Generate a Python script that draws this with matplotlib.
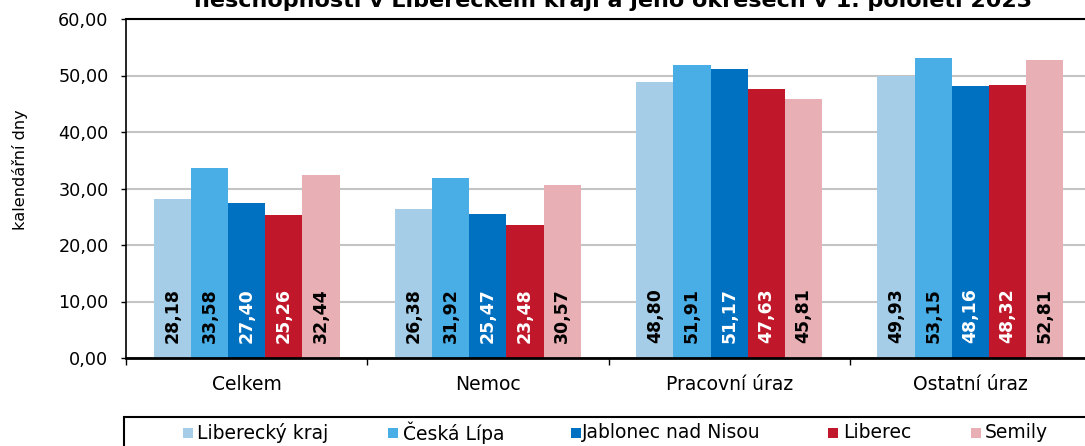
import numpy as np
import matplotlib.pyplot as plt
from matplotlib.patches import Rectangle
from matplotlib.ticker import FuncFormatter

categories = ['Celkem', 'Nemoc', 'Pracovní úraz', 'Ostatní úraz']
series_names = ['Liberecký kraj', 'Česká Lípa', 'Jablonec nad Nisou', 'Liberec', 'Semily']
liberecky_kraj = [28.18, 26.38, 48.80, 49.93]
ceska_lipa = [33.58, 31.92, 51.91, 53.15]
jablonec = [27.40, 25.47, 51.17, 48.16]
liberec = [25.26, 23.48, 47.63, 48.32]
semily = [32.44, 30.57, 45.81, 52.81]
series_values = [liberecky_kraj, ceska_lipa, jablonec, liberec, semily]

colors = ['#a6cde8', '#4aaee6', '#0070c0', '#c0182a', '#e8b0b4']
label_colors = ['black', 'black', 'white', 'white', 'black']

W, H = 1085, 446
fig = plt.figure(figsize=(W / 100, H / 100), dpi=100)
ax = fig.add_axes([126 / W, 1 - 358 / H, 965 / W, 339 / H])

x = np.arange(len(categories))
bw = 0.154
for i, (name, vals) in enumerate(zip(series_names, series_values)):
    pos = x + (i - 2) * bw
    ax.bar(pos, vals, width=bw, color=colors[i], edgecolor='none', zorder=2)
    for p, v in zip(pos, vals):
        ax.text(p, 7.5, f'{v:.2f}'.replace('.', ','), rotation=90,
                ha='center', va='center', fontsize=12.5, fontweight='bold',
                color=label_colors[i], zorder=3)

ax.set_ylim(0, 60)
ax.set_xlim(-0.5, 3.5)
ax.set_yticks(np.arange(0, 61, 10))
ax.yaxis.set_major_formatter(FuncFormatter(lambda v, _: f'{v:.2f}'.replace('.', ',')))
ax.tick_params(axis='y', labelsize=12.7, length=3.6, width=1, direction='out', pad=9)
ax.set_xticks(x)
ax.set_xticklabels(categories, fontsize=13.5)
ax.tick_params(axis='x', length=0, pad=12)
ax.set_xticks(np.arange(-0.5, 4, 1), minor=True)
ax.tick_params(axis='x', which='minor', length=5, width=1, direction='out')
ax.grid(axis='y', color='#c4c4c4', linewidth=1.5, zorder=0)
ax.set_axisbelow(True)

for s in ['left', 'bottom', 'top']:
    ax.spines[s].set_color('black')
ax.spines['left'].set_linewidth(1.2)
ax.spines['bottom'].set_linewidth(2)
ax.spines['top'].set_linewidth(1.5)
ax.spines['right'].set_visible(False)

ax.set_ylabel('kalendářní dny', fontsize=11.6)
ax.yaxis.set_label_coords(-(126 - 28) / 965, (358 - 170) / 339)

# title: only its second line is visible in the reference, top is cut by the edge
fig.text(613 / W, 1 - 7 / H,
         'neschopnosti v Libereckém kraji a jeho okresech v 1. pololetí 2023',
         ha='center', va='baseline', fontsize=16, fontweight='bold')

# legend box and entries
fig.add_artist(Rectangle((124 / W, -0.05), (W - 110) / W, (H - 417) / H + 0.05,
                         transform=fig.transFigure, facecolor='white',
                         edgecolor='black', linewidth=1.5, clip_on=False))
square_x = [183, 388, 571, 828, 971]
text_x = [197, 403, 582, 843, 985]
for i, name in enumerate(series_names):
    fig.add_artist(Rectangle((square_x[i] / W, 1 - 438 / H), 10 / W, 10 / H,
                             transform=fig.transFigure, facecolor=colors[i],
                             edgecolor='none'))
    fig.text(text_x[i] / W, 1 - 433 / H, name, ha='left', va='center',
             fontsize=13.5)

fig.savefig('out.png', dpi=100)
